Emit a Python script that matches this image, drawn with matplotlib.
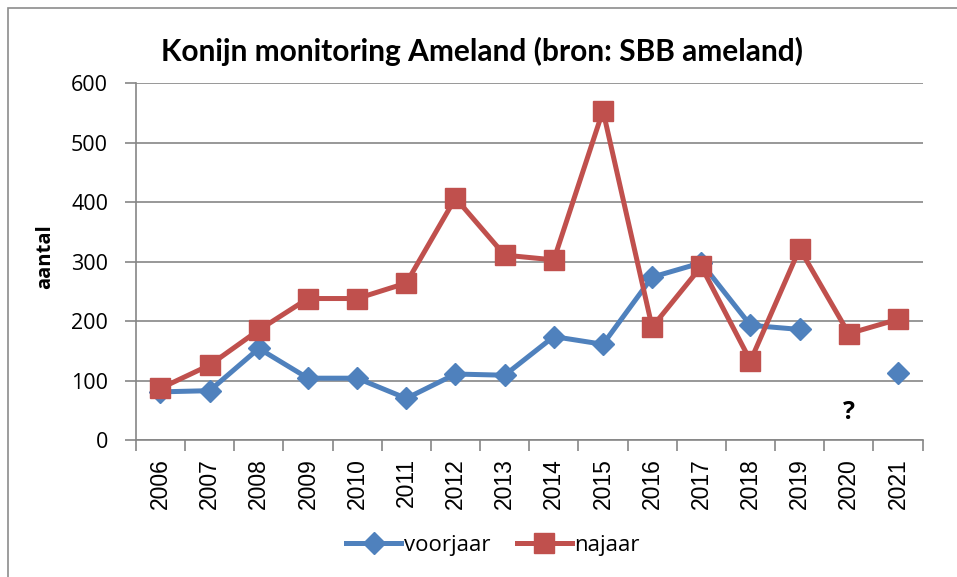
import matplotlib
matplotlib.use("Agg")
import matplotlib.pyplot as plt
import numpy as np
from matplotlib.patches import Rectangle

years = ["2006", "2007", "2008", "2009", "2010", "2011", "2012", "2013",
         "2014", "2015", "2016", "2017", "2018", "2019", "2020", "2021"]
voorjaar = [81, 83, 154, 104, 104, 70, 111, 109, 174, 161, 274, 298, 193, 186, None, 113]
najaar = [87, 126, 185, 238, 238, 264, 407, 311, 303, 554, 190, 292, 133, 322, 179, 203]
yticks = [0, 100, 200, 300, 400, 500, 600]

BLUE = "#4F81BD"
RED = "#C0504D"
GRID = "#868686"

plt.rcParams['font.family'] = ['Open Sans', 'DejaVu Sans']

fig = plt.figure(figsize=(9.57, 5.77), dpi=100)
ax = fig.add_axes([0.142, 0.2374, 0.822, 0.6182])

x = np.arange(len(years))
v = np.array([np.nan if a is None else a for a in voorjaar], dtype=float)
n = np.array(najaar, dtype=float)

ax.plot(x, v, color=BLUE, lw=3.6, marker="D", markersize=11.5, label="voorjaar",
        solid_joinstyle="round", zorder=3)
ax.plot(x, n, color=RED, lw=3.6, marker="s", markersize=14.5, label="najaar",
        solid_joinstyle="round", zorder=4)

ax.set_xlim(-0.5, len(years) - 0.5)
ax.set_ylim(0, 600)
ax.set_yticks(yticks)
ax.set_yticklabels([str(t) for t in yticks], fontsize=15.5)
ax.set_xticks(np.arange(-0.5, len(years), 1.0))
ax.set_xticklabels([])
ax.set_xticks(x, minor=True)
ax.set_xticklabels(years, minor=True, rotation=90, fontsize=16.5,
                   family=["Liberation Sans", "DejaVu Sans"])
ax.tick_params(axis="x", which="major", length=8, color=GRID, width=1.2, direction="out")
ax.tick_params(axis="x", which="minor", length=0, pad=13)
ax.tick_params(axis="y", length=8, color=GRID, width=1.2, pad=12)

ax.grid(axis="y", color=GRID, lw=1.2)
ax.set_axisbelow(True)
for s in ["top", "right"]:
    ax.spines[s].set_visible(False)
for s in ["left", "bottom"]:
    ax.spines[s].set_color(GRID)
    ax.spines[s].set_linewidth(1.2)

fig.text(45 / 957, 1 - 257 / 577, "aantal", fontsize=14.5, fontweight="bold",
         rotation=90, ha="center", va="center")

ax.text(14, 47, "?", fontsize=18, fontweight="bold", ha="center", va="center")

fig.text(0.504, 0.91, "Konijn monitoring Ameland (bron: SBB ameland)",
         ha="center", va="center", fontsize=21.5, fontweight="bold",
         family=["Lato", "DejaVu Sans"])

fig.legend(loc="center", bbox_to_anchor=(0.515, 0.055), ncol=2, frameon=False,
           fontsize=16, handlelength=2.5, columnspacing=1.2, handletextpad=0.1)

fig.patches.append(Rectangle((0.0085, -0.02), 1.1, 1.006, transform=fig.transFigure,
                             fill=False, edgecolor="#8C8C8C", lw=1.2))

fig.savefig("out.png", dpi=100)
